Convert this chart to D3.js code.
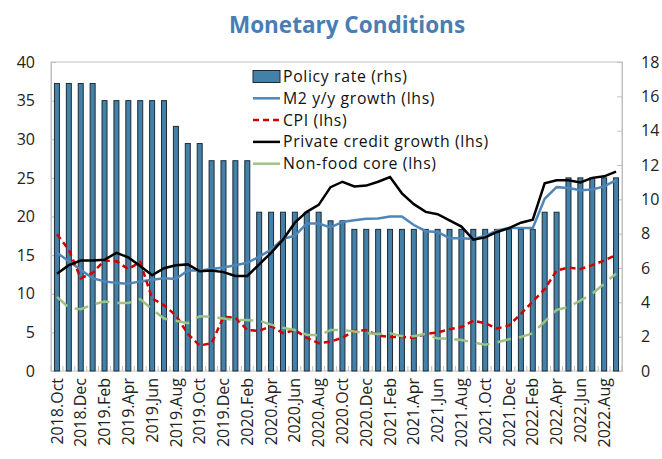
<!DOCTYPE html>
<html>
<head>
<meta charset="utf-8">
<script src="https://cdn.jsdelivr.net/npm/d3@7"></script>
<style>
  body { margin: 0; background: #fff; }
  svg text { font-family: "Open Sans", "DejaVu Sans", sans-serif; }
</style>
</head>
<body>
<script>
const WIDTH  = 662;
const HEIGHT = 459;
const LEFT = 51, RIGHT = 622, TOP = 62, BOTTOM = 371;

// Months, Oct 2018 .. Sep 2022
const monthNames = ["Jan","Feb","Mar","Apr","May","Jun","Jul","Aug","Sep","Oct","Nov","Dec"];
const months = [];
for (let k = 0; k < 48; k++) {
  const m = (9 + k) % 12, y = 2018 + Math.floor((9 + k) / 12);
  months.push(y + "." + monthNames[m]);
}

// Policy rate (rhs)
const policyRate = [16.75,16.75,16.75,16.75, 15.75,15.75,15.75,15.75,15.75,15.75,
  14.25, 13.25,13.25, 12.25,12.25,12.25,12.25, 9.25,9.25,9.25,9.25,9.25,9.25,
  8.75,8.75, 8.25,8.25,8.25,8.25,8.25,8.25,8.25,8.25,8.25,8.25,8.25,8.25,8.25,8.25,8.25,8.25,
  9.25,9.25, 11.25,11.25,11.25,11.25,11.25];

// lhs series
const m2Growth = [15.3,14.2,13.1,12.0,11.6,11.4,11.3,11.6,11.8,12.0,11.9,13.0,
  13.0,13.2,13.4,13.7,14.0,14.8,15.7,17.1,17.5,19.1,19.1,18.6,
  19.3,19.5,19.7,19.75,20.0,20.0,18.9,18.1,18.0,17.2,17.2,17.1,
  17.5,18.2,18.5,18.5,18.5,22.3,23.8,23.7,23.4,23.5,23.9,24.7];
const cpi = [17.7,15.7,12.0,12.7,14.3,14.2,13.2,14.1,9.4,8.5,7.2,4.8,
  3.3,3.6,7.0,6.9,5.3,5.2,5.8,4.9,5.3,4.3,3.6,3.8,
  4.3,5.2,5.3,4.6,4.4,4.4,4.3,4.8,5.0,5.4,5.7,6.5,
  6.2,5.5,5.9,7.4,9.0,10.6,13.0,13.4,13.2,13.7,14.3,15.0];
const privateCredit = [12.6,13.7,14.3,14.3,14.4,15.3,14.7,13.6,12.4,13.3,13.7,13.8,
  12.9,13.0,12.8,12.3,12.3,13.8,15.3,17.0,19.2,20.6,21.5,23.8,
  24.5,23.9,24.0,24.5,25.1,23.0,21.6,20.6,20.3,19.5,18.7,17.0,
  17.3,18.0,18.5,19.2,19.6,24.3,24.7,24.7,24.4,25.0,25.2,25.8];
const nonFoodCore = [9.6,8.2,8.0,8.6,9.0,8.8,8.8,9.3,8.0,6.8,6.5,6.2,
  7.1,7.0,6.8,6.6,6.6,6.5,6.0,5.6,5.3,4.7,4.6,5.3,
  5.3,5.1,4.9,4.8,4.9,4.5,4.5,4.8,4.2,4.2,4.0,3.7,
  3.4,3.7,4.1,4.4,4.9,6.4,7.9,8.3,9.1,10.0,11.3,12.6];

const leftTicks  = [0,5,10,15,20,25,30,35,40];
const rightTicks = [0,2,4,6,8,10,12,14,16,18];

const lineSeries = [
  { name: "M2 y/y growth (lhs)",          values: m2Growth,      color: "#4f86b9", dash: null },
  { name: "CPI (lhs)",                    values: cpi,           color: "#d00000", dash: "6,4" },
  { name: "Private credit growth (lhs)",  values: privateCredit, color: "#000000", dash: null },
  { name: "Non-food core (lhs)",          values: nonFoodCore,   color: "#9dc383", dash: "14,8" }
];

const svg = d3.select("body").append("svg")
    .attr("width", WIDTH).attr("height", HEIGHT);

svg.append("text")
    .attr("x", 347).attr("y", 33)
    .attr("text-anchor", "middle")
    .style("font-size", "22.5px").style("font-weight", "bold")
    .attr("fill", "#4a7db3")
    .text("Monetary Conditions");

const x  = d3.scaleBand().domain(months).range([LEFT, RIGHT]).paddingInner(0.58).paddingOuter(0.29);
const yL = d3.scaleLinear().domain([0, 40]).range([BOTTOM, TOP]);
const yR = d3.scaleLinear().domain([0, 18]).range([BOTTOM, TOP]);
const cx = d => x(d) + x.bandwidth() / 2;

// plot frame
svg.append("rect")
    .attr("x", LEFT).attr("y", TOP)
    .attr("width", RIGHT - LEFT).attr("height", BOTTOM - TOP)
    .attr("fill", "none").attr("stroke", "#c0c0c0");

// axes
const gl = svg.append("g").attr("transform", `translate(${LEFT},0)`)
    .call(d3.axisLeft(yL).tickValues(leftTicks).tickSize(-5).tickPadding(16));
const gr = svg.append("g").attr("transform", `translate(${RIGHT},0)`)
    .call(d3.axisRight(yR).tickValues(rightTicks).tickSize(-5).tickPadding(19));
[gl, gr].forEach(g => {
  g.select(".domain").attr("stroke", "#c0c0c0");
  g.selectAll(".tick line").attr("stroke", "#c0c0c0");
  g.selectAll(".tick text").style("font-size", "16px").attr("fill", "#222")
    .style("font-family", "'Open Sans', sans-serif");
});

// bars
svg.append("g").selectAll("rect")
  .data(policyRate)
  .enter().append("rect")
    .attr("x", (d, i) => x(months[i]))
    .attr("y", d => yR(d))
    .attr("width", x.bandwidth())
    .attr("height", d => yR(0) - yR(d))
    .attr("fill", "#4481a8")
    .attr("stroke", "#1d2b36").attr("stroke-width", 1);

// bottom category ticks (inward, between categories)
svg.append("g").selectAll("line")
  .data(months.concat(["end"]))
  .enter().append("line")
    .attr("x1", (d, i) => LEFT + i * (RIGHT - LEFT) / months.length)
    .attr("x2", (d, i) => LEFT + i * (RIGHT - LEFT) / months.length)
    .attr("y1", BOTTOM).attr("y2", BOTTOM - 5)
    .attr("stroke", "#c0c0c0");

// lines
const line = d3.line().x((d, i) => cx(months[i])).y(d => yL(d));
lineSeries.forEach(s => {
  svg.append("path")
    .datum(s.values)
    .attr("d", line)
    .attr("fill", "none")
    .attr("stroke", s.color)
    .attr("stroke-width", 2.5)
    .attr("stroke-dasharray", s.dash);
});

// x labels (every other month)
svg.append("g").selectAll("text")
  .data(months.filter((d, i) => i % 2 === 0))
  .enter().append("text")
    .attr("transform", d => `translate(${cx(d)},${BOTTOM + 7}) rotate(-90)`)
    .attr("text-anchor", "end")
    .attr("dy", "0.35em")
    .style("font-size", "16px")
    .attr("fill", "#222")
    .text(d => d);

// legend
const legend = svg.append("g").attr("transform", "translate(253,76.5)");
const rowH = 21.8;
legend.append("rect")
    .attr("x", 0).attr("y", -6).attr("width", 27).attr("height", 12)
    .attr("fill", "#4481a8").attr("stroke", "#1d2b36");
legend.append("text").attr("x", 30).attr("y", 0).attr("dy", "0.35em")
    .style("font-size", "15.8px").style("letter-spacing", "0.65px")
    .attr("fill", "#111").text("Policy rate (rhs)");
lineSeries.forEach((s, k) => {
  const yy = (k + 1) * rowH;
  legend.append("line")
    .attr("x1", 0).attr("x2", 27).attr("y1", yy).attr("y2", yy)
    .attr("stroke", s.color).attr("stroke-width", 2.5)
    .attr("stroke-dasharray", s.dash === "14,8" ? null : s.dash);
  legend.append("text").attr("x", 30).attr("y", yy).attr("dy", "0.35em")
    .style("font-size", "15.8px").style("letter-spacing", "0.65px")
    .attr("fill", "#111").text(s.name);
});
</script>
</body>
</html>
